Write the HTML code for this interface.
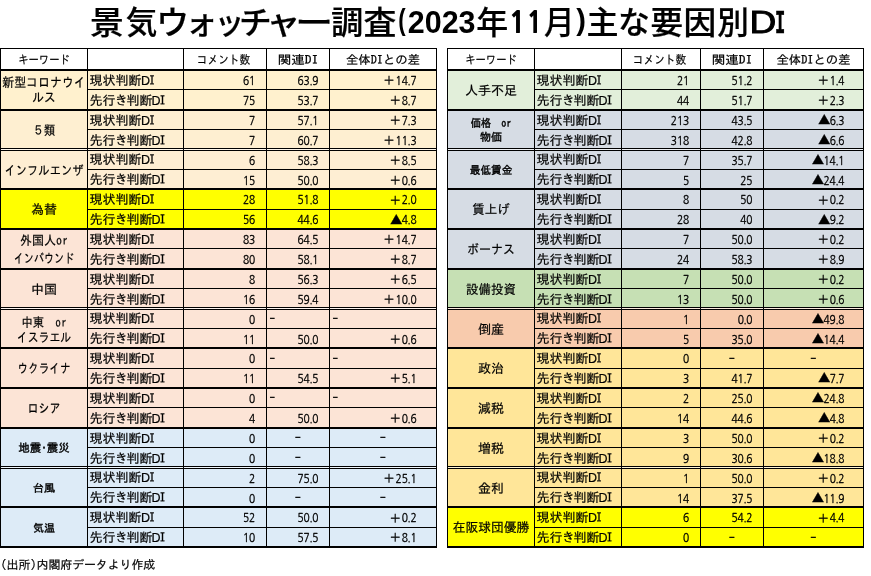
<!DOCTYPE html>
<html lang="ja"><head><meta charset="utf-8"><title>景気ウォッチャー調査(2023年11月)主な要因別DI</title>
<style>
html,body{margin:0;padding:0;background:#fff}
body{width:871px;height:576px;overflow:hidden}
svg{display:block;will-change:transform}
text{fill:#000}
.j,.k{font-family:"IPAGothic","Liberation Sans",sans-serif;stroke:#000;stroke-width:0.2px}
.la{font-family:"Liberation Sans",sans-serif;font-size:12.5px}
.kb{font-family:"IPAGothic","Liberation Sans",sans-serif;stroke:#000;stroke-width:0.4px}
.n{font-family:"NanumGothic","Liberation Sans",sans-serif;stroke:#000;stroke-width:0.35px}
.tri{font-family:"Noto Sans CJK JP",sans-serif}
.tc{font-family:"Liberation Sans","Noto Sans CJK JP",sans-serif;font-weight:500;stroke:#000;stroke-width:0.22px}
.tp{font-family:"Liberation Sans","Noto Sans CJK JP",sans-serif;font-weight:700}
.td{font-family:"Liberation Sans","Noto Sans CJK JP",sans-serif;font-weight:700}
.tn{font-family:"NanumGothic",sans-serif;font-weight:800}
.tl{font-family:"Liberation Sans","Noto Sans CJK JP",sans-serif;font-weight:400;stroke:#000;stroke-width:0.9px}
.tm{font-family:"Liberation Mono",monospace;font-weight:700;stroke:#000;stroke-width:0.5px}
</style></head><body>
<svg width="871" height="576" viewBox="0 0 871 576">
<rect x="0" y="0" width="871" height="576" fill="#fff"/>
<text><tspan class="tc" x="90.14" y="34" font-size="31.6" textLength="33.89" lengthAdjust="spacingAndGlyphs">景</tspan><tspan class="tc" x="125.80" y="34" font-size="31.6" textLength="31.56" lengthAdjust="spacingAndGlyphs">気</tspan><tspan class="tc" x="156.22" y="34" font-size="31.6" textLength="32.89" lengthAdjust="spacingAndGlyphs">ウ</tspan><tspan class="tc" x="185.58" y="34" font-size="31.6" textLength="31.88" lengthAdjust="spacingAndGlyphs">ォ</tspan><tspan class="tc" x="214.75" y="34" font-size="31.6" textLength="29.41" lengthAdjust="spacingAndGlyphs">ッ</tspan><tspan class="tc" x="238.98" y="34" font-size="31.6" textLength="32.74" lengthAdjust="spacingAndGlyphs">チ</tspan><tspan class="tc" x="266.31" y="34" font-size="31.6" textLength="34.25" lengthAdjust="spacingAndGlyphs">ャ</tspan><tspan class="tc" x="295.22" y="34" font-size="31.6" textLength="37.81" lengthAdjust="spacingAndGlyphs">ー</tspan><tspan class="tc" x="331.11" y="34" font-size="31.6" textLength="32.25" lengthAdjust="spacingAndGlyphs">調</tspan><tspan class="tc" x="363.41" y="34" font-size="31.6" textLength="32.90" lengthAdjust="spacingAndGlyphs">査</tspan><tspan class="tp" x="398.29" y="30.2" font-size="29.3" textLength="7.38" lengthAdjust="spacingAndGlyphs">(</tspan><tspan class="td" x="407.84" y="33.3" font-size="31.3" textLength="67.72" lengthAdjust="spacingAndGlyphs">2023</tspan><tspan class="tc" x="476.32" y="34" font-size="31.6" textLength="31.96" lengthAdjust="spacingAndGlyphs">年</tspan><tspan class="tn" x="508.86" y="33.3" font-size="29.6" textLength="17.32" lengthAdjust="spacingAndGlyphs">1</tspan><tspan class="tn" x="526.55" y="33.3" font-size="29.6" textLength="16.23" lengthAdjust="spacingAndGlyphs">1</tspan><tspan class="tc" x="544.09" y="34" font-size="31.6" textLength="30.50" lengthAdjust="spacingAndGlyphs">月</tspan><tspan class="tp" x="576.25" y="30.2" font-size="29.3" textLength="9.70" lengthAdjust="spacingAndGlyphs">)</tspan><tspan class="tc" x="586.50" y="34" font-size="31.6" textLength="32.00" lengthAdjust="spacingAndGlyphs">主</tspan><tspan class="tc" x="618.05" y="34" font-size="31.6" textLength="31.86" lengthAdjust="spacingAndGlyphs">な</tspan><tspan class="tc" x="650.60" y="34" font-size="31.6" textLength="32.61" lengthAdjust="spacingAndGlyphs">要</tspan><tspan class="tc" x="683.63" y="34" font-size="31.6" textLength="32.74" lengthAdjust="spacingAndGlyphs">因</tspan><tspan class="tc" x="717.15" y="34" font-size="31.6" textLength="31.63" lengthAdjust="spacingAndGlyphs">別</tspan><tspan class="tl" x="749.53" y="33.3" font-size="31.3" textLength="26.81" lengthAdjust="spacingAndGlyphs">D</tspan><tspan class="tm" x="774.89" y="33.3" font-size="33" textLength="10.23" lengthAdjust="spacingAndGlyphs">I</tspan></text>
<rect x="0" y="69" width="437" height="42" fill="#FFF1CE"/>
<rect x="0" y="109" width="437" height="42" fill="#FEEFD1"/>
<rect x="0" y="148" width="437" height="42" fill="#FEEED3"/>
<rect x="0" y="188" width="437" height="42" fill="#FFFF00"/>
<rect x="0" y="228" width="437" height="42" fill="#FCE4D6"/>
<rect x="0" y="268" width="437" height="42" fill="#FCE4D6"/>
<rect x="0" y="307" width="437" height="42" fill="#FCE4D6"/>
<rect x="0" y="347" width="437" height="42" fill="#FCE4D6"/>
<rect x="0" y="387" width="437" height="42" fill="#FCE4D6"/>
<rect x="0" y="427" width="437" height="42" fill="#DDEBF7"/>
<rect x="0" y="466" width="437" height="42" fill="#DDEBF7"/>
<rect x="0" y="506" width="437" height="42" fill="#DDEBF7"/>
<text class="j" x="44" y="64" font-size="12" text-anchor="middle" textLength="51.5" lengthAdjust="spacingAndGlyphs">キーワード</text>
<text class="j" x="223.5" y="64" font-size="12" text-anchor="middle" textLength="53.5" lengthAdjust="spacingAndGlyphs">コメント数</text>
<text class="j" x="298" y="64" font-size="12" text-anchor="middle" textLength="40.5" lengthAdjust="spacingAndGlyphs">関連DI</text>
<text class="j" x="383" y="64" font-size="12" text-anchor="middle" textLength="74" lengthAdjust="spacingAndGlyphs">全体DIとの差</text>
<text class="k" font-size="13" text-anchor="middle"><tspan x="44" y="87.48" textLength="83.5" lengthAdjust="spacingAndGlyphs">新型コロナウイ</tspan><tspan x="44" y="102.48" textLength="23.5" lengthAdjust="spacingAndGlyphs">ルス</tspan></text>
<text class="j" x="89.6" y="85" font-size="13">現状判断<tspan class="la" dx="-0.7">D</tspan><tspan dx="-1.2">I</tspan></text>
<text class="n" font-size="11.6"><tspan x="242.93" y="85.2" textLength="12.37" lengthAdjust="spacingAndGlyphs">61</tspan></text>
<text class="n" font-size="11.6"><tspan x="297.44" y="85.2" textLength="12.37" lengthAdjust="spacingAndGlyphs">63</tspan><tspan x="309.46" y="85.2" textLength="3.09" lengthAdjust="spacingAndGlyphs">.</tspan><tspan x="312.31" y="85.2" textLength="6.19" lengthAdjust="spacingAndGlyphs">9</tspan></text>
<text class="n" font-size="11.6"><tspan class="j" font-size="12.5" text-anchor="end" x="395.34" y="85.4">＋</tspan><tspan x="395.54" y="85.2" textLength="12.37" lengthAdjust="spacingAndGlyphs">14</tspan><tspan x="407.56" y="85.2" textLength="3.09" lengthAdjust="spacingAndGlyphs">.</tspan><tspan x="410.41" y="85.2" textLength="6.19" lengthAdjust="spacingAndGlyphs">7</tspan></text>
<text class="j" x="89.6" y="104.87" font-size="13">先行<tspan dx="-0.8">き</tspan><tspan dx="-1.3">判断</tspan><tspan class="la" dx="-1">D</tspan><tspan dx="-1.2">I</tspan></text>
<text class="n" font-size="11.6"><tspan x="242.93" y="105.07" textLength="12.37" lengthAdjust="spacingAndGlyphs">75</tspan></text>
<text class="n" font-size="11.6"><tspan x="297.44" y="105.07" textLength="12.37" lengthAdjust="spacingAndGlyphs">53</tspan><tspan x="309.46" y="105.07" textLength="3.09" lengthAdjust="spacingAndGlyphs">.</tspan><tspan x="312.31" y="105.07" textLength="6.19" lengthAdjust="spacingAndGlyphs">7</tspan></text>
<text class="n" font-size="11.6"><tspan class="j" font-size="12.5" text-anchor="end" x="401.53" y="105.27">＋</tspan><tspan x="401.73" y="105.07" textLength="6.19" lengthAdjust="spacingAndGlyphs">8</tspan><tspan x="407.56" y="105.07" textLength="3.09" lengthAdjust="spacingAndGlyphs">.</tspan><tspan x="410.41" y="105.07" textLength="6.19" lengthAdjust="spacingAndGlyphs">7</tspan></text>
<text class="k" x="44" y="134.98" font-size="13" text-anchor="middle" textLength="22.5" lengthAdjust="spacingAndGlyphs">５類</text>
<text class="j" x="89.6" y="124.74" font-size="13">現状判断<tspan class="la" dx="-0.7">D</tspan><tspan dx="-1.2">I</tspan></text>
<text class="n" font-size="11.6"><tspan x="249.11" y="124.94" textLength="6.19" lengthAdjust="spacingAndGlyphs">7</tspan></text>
<text class="n" font-size="11.6"><tspan x="297.44" y="124.94" textLength="12.37" lengthAdjust="spacingAndGlyphs">57</tspan><tspan x="309.46" y="124.94" textLength="3.09" lengthAdjust="spacingAndGlyphs">.</tspan><tspan x="312.31" y="124.94" textLength="6.19" lengthAdjust="spacingAndGlyphs">1</tspan></text>
<text class="n" font-size="11.6"><tspan class="j" font-size="12.5" text-anchor="end" x="401.53" y="125.14">＋</tspan><tspan x="401.73" y="124.94" textLength="6.19" lengthAdjust="spacingAndGlyphs">7</tspan><tspan x="407.56" y="124.94" textLength="3.09" lengthAdjust="spacingAndGlyphs">.</tspan><tspan x="410.41" y="124.94" textLength="6.19" lengthAdjust="spacingAndGlyphs">3</tspan></text>
<text class="j" x="89.6" y="144.62" font-size="13">先行<tspan dx="-0.8">き</tspan><tspan dx="-1.3">判断</tspan><tspan class="la" dx="-1">D</tspan><tspan dx="-1.2">I</tspan></text>
<text class="n" font-size="11.6"><tspan x="249.11" y="144.82" textLength="6.19" lengthAdjust="spacingAndGlyphs">7</tspan></text>
<text class="n" font-size="11.6"><tspan x="297.44" y="144.82" textLength="12.37" lengthAdjust="spacingAndGlyphs">60</tspan><tspan x="309.46" y="144.82" textLength="3.09" lengthAdjust="spacingAndGlyphs">.</tspan><tspan x="312.31" y="144.82" textLength="6.19" lengthAdjust="spacingAndGlyphs">7</tspan></text>
<text class="n" font-size="11.6"><tspan class="j" font-size="12.5" text-anchor="end" x="395.34" y="145.02">＋</tspan><tspan x="395.54" y="144.82" textLength="12.37" lengthAdjust="spacingAndGlyphs">11</tspan><tspan x="407.56" y="144.82" textLength="3.09" lengthAdjust="spacingAndGlyphs">.</tspan><tspan x="410.41" y="144.82" textLength="6.19" lengthAdjust="spacingAndGlyphs">3</tspan></text>
<text class="k" x="44" y="174.98" font-size="13" text-anchor="middle" textLength="79" lengthAdjust="spacingAndGlyphs">インフルエンザ</text>
<text class="j" x="89.6" y="164.49" font-size="13">現状判断<tspan class="la" dx="-0.7">D</tspan><tspan dx="-1.2">I</tspan></text>
<text class="n" font-size="11.6"><tspan x="249.11" y="164.69" textLength="6.19" lengthAdjust="spacingAndGlyphs">6</tspan></text>
<text class="n" font-size="11.6"><tspan x="297.44" y="164.69" textLength="12.37" lengthAdjust="spacingAndGlyphs">58</tspan><tspan x="309.46" y="164.69" textLength="3.09" lengthAdjust="spacingAndGlyphs">.</tspan><tspan x="312.31" y="164.69" textLength="6.19" lengthAdjust="spacingAndGlyphs">3</tspan></text>
<text class="n" font-size="11.6"><tspan class="j" font-size="12.5" text-anchor="end" x="401.53" y="164.89">＋</tspan><tspan x="401.73" y="164.69" textLength="6.19" lengthAdjust="spacingAndGlyphs">8</tspan><tspan x="407.56" y="164.69" textLength="3.09" lengthAdjust="spacingAndGlyphs">.</tspan><tspan x="410.41" y="164.69" textLength="6.19" lengthAdjust="spacingAndGlyphs">5</tspan></text>
<text class="j" x="89.6" y="184.36" font-size="13">先行<tspan dx="-0.8">き</tspan><tspan dx="-1.3">判断</tspan><tspan class="la" dx="-1">D</tspan><tspan dx="-1.2">I</tspan></text>
<text class="n" font-size="11.6"><tspan x="242.93" y="184.56" textLength="12.37" lengthAdjust="spacingAndGlyphs">15</tspan></text>
<text class="n" font-size="11.6"><tspan x="297.44" y="184.56" textLength="12.37" lengthAdjust="spacingAndGlyphs">50</tspan><tspan x="309.46" y="184.56" textLength="3.09" lengthAdjust="spacingAndGlyphs">.</tspan><tspan x="312.31" y="184.56" textLength="6.19" lengthAdjust="spacingAndGlyphs">0</tspan></text>
<text class="n" font-size="11.6"><tspan class="j" font-size="12.5" text-anchor="end" x="401.53" y="184.76">＋</tspan><tspan x="401.73" y="184.56" textLength="6.19" lengthAdjust="spacingAndGlyphs">0</tspan><tspan x="407.56" y="184.56" textLength="3.09" lengthAdjust="spacingAndGlyphs">.</tspan><tspan x="410.41" y="184.56" textLength="6.19" lengthAdjust="spacingAndGlyphs">6</tspan></text>
<text class="k" x="44" y="214.48" font-size="13" text-anchor="middle">為替</text>
<text class="j" x="89.6" y="204.23" font-size="13">現状判断<tspan class="la" dx="-0.7">D</tspan><tspan dx="-1.2">I</tspan></text>
<text class="n" font-size="11.6"><tspan x="242.93" y="204.43" textLength="12.37" lengthAdjust="spacingAndGlyphs">28</tspan></text>
<text class="n" font-size="11.6"><tspan x="297.44" y="204.43" textLength="12.37" lengthAdjust="spacingAndGlyphs">51</tspan><tspan x="309.46" y="204.43" textLength="3.09" lengthAdjust="spacingAndGlyphs">.</tspan><tspan x="312.31" y="204.43" textLength="6.19" lengthAdjust="spacingAndGlyphs">8</tspan></text>
<text class="n" font-size="11.6"><tspan class="j" font-size="12.5" text-anchor="end" x="401.53" y="204.63">＋</tspan><tspan x="401.73" y="204.43" textLength="6.19" lengthAdjust="spacingAndGlyphs">2</tspan><tspan x="407.56" y="204.43" textLength="3.09" lengthAdjust="spacingAndGlyphs">.</tspan><tspan x="410.41" y="204.43" textLength="6.19" lengthAdjust="spacingAndGlyphs">0</tspan></text>
<text class="j" x="89.6" y="224.1" font-size="13">先行<tspan dx="-0.8">き</tspan><tspan dx="-1.3">判断</tspan><tspan class="la" dx="-1">D</tspan><tspan dx="-1.2">I</tspan></text>
<text class="n" font-size="11.6"><tspan x="242.93" y="224.3" textLength="12.37" lengthAdjust="spacingAndGlyphs">56</tspan></text>
<text class="n" font-size="11.6"><tspan x="297.44" y="224.3" textLength="12.37" lengthAdjust="spacingAndGlyphs">44</tspan><tspan x="309.46" y="224.3" textLength="3.09" lengthAdjust="spacingAndGlyphs">.</tspan><tspan x="312.31" y="224.3" textLength="6.19" lengthAdjust="spacingAndGlyphs">6</tspan></text>
<text class="n" font-size="11.6"><tspan class="tri" font-size="12" text-anchor="end" x="402.33" y="224.5">▲</tspan><tspan x="401.73" y="224.3" textLength="6.19" lengthAdjust="spacingAndGlyphs">4</tspan><tspan x="407.56" y="224.3" textLength="3.09" lengthAdjust="spacingAndGlyphs">.</tspan><tspan x="410.41" y="224.3" textLength="6.19" lengthAdjust="spacingAndGlyphs">8</tspan></text>
<text class="k" font-size="13" text-anchor="middle"><tspan x="44" y="244.98" textLength="48" lengthAdjust="spacingAndGlyphs">外国人or</tspan><tspan x="44" y="263.28" textLength="60.5" lengthAdjust="spacingAndGlyphs">インバウンド</tspan></text>
<text class="j" x="89.6" y="243.98" font-size="13">現状判断<tspan class="la" dx="-0.7">D</tspan><tspan dx="-1.2">I</tspan></text>
<text class="n" font-size="11.6"><tspan x="242.93" y="244.18" textLength="12.37" lengthAdjust="spacingAndGlyphs">83</tspan></text>
<text class="n" font-size="11.6"><tspan x="297.44" y="244.18" textLength="12.37" lengthAdjust="spacingAndGlyphs">64</tspan><tspan x="309.46" y="244.18" textLength="3.09" lengthAdjust="spacingAndGlyphs">.</tspan><tspan x="312.31" y="244.18" textLength="6.19" lengthAdjust="spacingAndGlyphs">5</tspan></text>
<text class="n" font-size="11.6"><tspan class="j" font-size="12.5" text-anchor="end" x="395.34" y="244.38">＋</tspan><tspan x="395.54" y="244.18" textLength="12.37" lengthAdjust="spacingAndGlyphs">14</tspan><tspan x="407.56" y="244.18" textLength="3.09" lengthAdjust="spacingAndGlyphs">.</tspan><tspan x="410.41" y="244.18" textLength="6.19" lengthAdjust="spacingAndGlyphs">7</tspan></text>
<text class="j" x="89.6" y="263.85" font-size="13">先行<tspan dx="-0.8">き</tspan><tspan dx="-1.3">判断</tspan><tspan class="la" dx="-1">D</tspan><tspan dx="-1.2">I</tspan></text>
<text class="n" font-size="11.6"><tspan x="242.93" y="264.05" textLength="12.37" lengthAdjust="spacingAndGlyphs">80</tspan></text>
<text class="n" font-size="11.6"><tspan x="297.44" y="264.05" textLength="12.37" lengthAdjust="spacingAndGlyphs">58</tspan><tspan x="309.46" y="264.05" textLength="3.09" lengthAdjust="spacingAndGlyphs">.</tspan><tspan x="312.31" y="264.05" textLength="6.19" lengthAdjust="spacingAndGlyphs">1</tspan></text>
<text class="n" font-size="11.6"><tspan class="j" font-size="12.5" text-anchor="end" x="401.53" y="264.25">＋</tspan><tspan x="401.73" y="264.05" textLength="6.19" lengthAdjust="spacingAndGlyphs">8</tspan><tspan x="407.56" y="264.05" textLength="3.09" lengthAdjust="spacingAndGlyphs">.</tspan><tspan x="410.41" y="264.05" textLength="6.19" lengthAdjust="spacingAndGlyphs">7</tspan></text>
<text class="k" x="44" y="293.98" font-size="13" text-anchor="middle">中国</text>
<text class="j" x="89.6" y="283.72" font-size="13">現状判断<tspan class="la" dx="-0.7">D</tspan><tspan dx="-1.2">I</tspan></text>
<text class="n" font-size="11.6"><tspan x="249.11" y="283.92" textLength="6.19" lengthAdjust="spacingAndGlyphs">8</tspan></text>
<text class="n" font-size="11.6"><tspan x="297.44" y="283.92" textLength="12.37" lengthAdjust="spacingAndGlyphs">56</tspan><tspan x="309.46" y="283.92" textLength="3.09" lengthAdjust="spacingAndGlyphs">.</tspan><tspan x="312.31" y="283.92" textLength="6.19" lengthAdjust="spacingAndGlyphs">3</tspan></text>
<text class="n" font-size="11.6"><tspan class="j" font-size="12.5" text-anchor="end" x="401.53" y="284.12">＋</tspan><tspan x="401.73" y="283.92" textLength="6.19" lengthAdjust="spacingAndGlyphs">6</tspan><tspan x="407.56" y="283.92" textLength="3.09" lengthAdjust="spacingAndGlyphs">.</tspan><tspan x="410.41" y="283.92" textLength="6.19" lengthAdjust="spacingAndGlyphs">5</tspan></text>
<text class="j" x="89.6" y="303.59" font-size="13">先行<tspan dx="-0.8">き</tspan><tspan dx="-1.3">判断</tspan><tspan class="la" dx="-1">D</tspan><tspan dx="-1.2">I</tspan></text>
<text class="n" font-size="11.6"><tspan x="242.93" y="303.79" textLength="12.37" lengthAdjust="spacingAndGlyphs">16</tspan></text>
<text class="n" font-size="11.6"><tspan x="297.44" y="303.79" textLength="12.37" lengthAdjust="spacingAndGlyphs">59</tspan><tspan x="309.46" y="303.79" textLength="3.09" lengthAdjust="spacingAndGlyphs">.</tspan><tspan x="312.31" y="303.79" textLength="6.19" lengthAdjust="spacingAndGlyphs">4</tspan></text>
<text class="n" font-size="11.6"><tspan class="j" font-size="12.5" text-anchor="end" x="395.34" y="303.99">＋</tspan><tspan x="395.54" y="303.79" textLength="12.37" lengthAdjust="spacingAndGlyphs">10</tspan><tspan x="407.56" y="303.79" textLength="3.09" lengthAdjust="spacingAndGlyphs">.</tspan><tspan x="410.41" y="303.79" textLength="6.19" lengthAdjust="spacingAndGlyphs">0</tspan></text>
<text class="k" font-size="13" text-anchor="middle"><tspan x="44" y="326.68" textLength="45" lengthAdjust="spacingAndGlyphs">中東　or</tspan><tspan x="44" y="341.98" textLength="54.5" lengthAdjust="spacingAndGlyphs">イスラエル</tspan></text>
<text class="j" x="89.6" y="323.46" font-size="13">現状判断<tspan class="la" dx="-0.7">D</tspan><tspan dx="-1.2">I</tspan></text>
<text class="n" font-size="11.6"><tspan x="249.11" y="323.66" textLength="6.19" lengthAdjust="spacingAndGlyphs">0</tspan></text>
<text class="j" font-size="12" transform="translate(269 322.96) scale(0.55 1)">－</text>
<text class="j" font-size="12" transform="translate(332 322.96) scale(0.55 1)">－</text>
<text class="j" x="89.6" y="343.34" font-size="13">先行<tspan dx="-0.8">き</tspan><tspan dx="-1.3">判断</tspan><tspan class="la" dx="-1">D</tspan><tspan dx="-1.2">I</tspan></text>
<text class="n" font-size="11.6"><tspan x="242.93" y="343.54" textLength="12.37" lengthAdjust="spacingAndGlyphs">11</tspan></text>
<text class="n" font-size="11.6"><tspan x="297.44" y="343.54" textLength="12.37" lengthAdjust="spacingAndGlyphs">50</tspan><tspan x="309.46" y="343.54" textLength="3.09" lengthAdjust="spacingAndGlyphs">.</tspan><tspan x="312.31" y="343.54" textLength="6.19" lengthAdjust="spacingAndGlyphs">0</tspan></text>
<text class="n" font-size="11.6"><tspan class="j" font-size="12.5" text-anchor="end" x="401.53" y="343.74">＋</tspan><tspan x="401.73" y="343.54" textLength="6.19" lengthAdjust="spacingAndGlyphs">0</tspan><tspan x="407.56" y="343.54" textLength="3.09" lengthAdjust="spacingAndGlyphs">.</tspan><tspan x="410.41" y="343.54" textLength="6.19" lengthAdjust="spacingAndGlyphs">6</tspan></text>
<text class="k" x="44" y="373.48" font-size="13" text-anchor="middle" textLength="53" lengthAdjust="spacingAndGlyphs">ウクライナ</text>
<text class="j" x="89.6" y="363.21" font-size="13">現状判断<tspan class="la" dx="-0.7">D</tspan><tspan dx="-1.2">I</tspan></text>
<text class="n" font-size="11.6"><tspan x="249.11" y="363.41" textLength="6.19" lengthAdjust="spacingAndGlyphs">0</tspan></text>
<text class="j" font-size="12" transform="translate(269 362.71) scale(0.55 1)">－</text>
<text class="j" font-size="12" transform="translate(332 362.71) scale(0.55 1)">－</text>
<text class="j" x="89.6" y="383.08" font-size="13">先行<tspan dx="-0.8">き</tspan><tspan dx="-1.3">判断</tspan><tspan class="la" dx="-1">D</tspan><tspan dx="-1.2">I</tspan></text>
<text class="n" font-size="11.6"><tspan x="242.93" y="383.28" textLength="12.37" lengthAdjust="spacingAndGlyphs">11</tspan></text>
<text class="n" font-size="11.6"><tspan x="297.44" y="383.28" textLength="12.37" lengthAdjust="spacingAndGlyphs">54</tspan><tspan x="309.46" y="383.28" textLength="3.09" lengthAdjust="spacingAndGlyphs">.</tspan><tspan x="312.31" y="383.28" textLength="6.19" lengthAdjust="spacingAndGlyphs">5</tspan></text>
<text class="n" font-size="11.6"><tspan class="j" font-size="12.5" text-anchor="end" x="401.53" y="383.48">＋</tspan><tspan x="401.73" y="383.28" textLength="6.19" lengthAdjust="spacingAndGlyphs">5</tspan><tspan x="407.56" y="383.28" textLength="3.09" lengthAdjust="spacingAndGlyphs">.</tspan><tspan x="410.41" y="383.28" textLength="6.19" lengthAdjust="spacingAndGlyphs">1</tspan></text>
<text class="k" x="44" y="413.48" font-size="13" text-anchor="middle" textLength="33" lengthAdjust="spacingAndGlyphs">ロシア</text>
<text class="j" x="89.6" y="402.95" font-size="13">現状判断<tspan class="la" dx="-0.7">D</tspan><tspan dx="-1.2">I</tspan></text>
<text class="n" font-size="11.6"><tspan x="249.11" y="403.15" textLength="6.19" lengthAdjust="spacingAndGlyphs">0</tspan></text>
<text class="j" font-size="12" transform="translate(269 402.45) scale(0.55 1)">－</text>
<text class="j" font-size="12" transform="translate(332 402.45) scale(0.55 1)">－</text>
<text class="j" x="89.6" y="422.82" font-size="13">先行<tspan dx="-0.8">き</tspan><tspan dx="-1.3">判断</tspan><tspan class="la" dx="-1">D</tspan><tspan dx="-1.2">I</tspan></text>
<text class="n" font-size="11.6"><tspan x="249.11" y="423.02" textLength="6.19" lengthAdjust="spacingAndGlyphs">4</tspan></text>
<text class="n" font-size="11.6"><tspan x="297.44" y="423.02" textLength="12.37" lengthAdjust="spacingAndGlyphs">50</tspan><tspan x="309.46" y="423.02" textLength="3.09" lengthAdjust="spacingAndGlyphs">.</tspan><tspan x="312.31" y="423.02" textLength="6.19" lengthAdjust="spacingAndGlyphs">0</tspan></text>
<text class="n" font-size="11.6"><tspan class="j" font-size="12.5" text-anchor="end" x="401.53" y="423.22">＋</tspan><tspan x="401.73" y="423.02" textLength="6.19" lengthAdjust="spacingAndGlyphs">0</tspan><tspan x="407.56" y="423.02" textLength="3.09" lengthAdjust="spacingAndGlyphs">.</tspan><tspan x="410.41" y="423.02" textLength="6.19" lengthAdjust="spacingAndGlyphs">6</tspan></text>
<text class="kb" x="44" y="452.44" font-size="11.5" text-anchor="middle">地震<tspan dx="-2.9">・</tspan><tspan dx="-2.9">震災</tspan></text>
<text class="j" x="89.6" y="442.7" font-size="13">現状判断<tspan class="la" dx="-0.7">D</tspan><tspan dx="-1.2">I</tspan></text>
<text class="n" font-size="11.6"><tspan x="249.11" y="442.9" textLength="6.19" lengthAdjust="spacingAndGlyphs">0</tspan></text>
<text class="j" font-size="12" text-anchor="middle" transform="translate(297.8 442.2) scale(0.6 1)">－</text>
<text class="j" font-size="12" text-anchor="middle" transform="translate(382.8 442.2) scale(0.6 1)">－</text>
<text class="j" x="89.6" y="462.57" font-size="13">先行<tspan dx="-0.8">き</tspan><tspan dx="-1.3">判断</tspan><tspan class="la" dx="-1">D</tspan><tspan dx="-1.2">I</tspan></text>
<text class="n" font-size="11.6"><tspan x="249.11" y="462.77" textLength="6.19" lengthAdjust="spacingAndGlyphs">0</tspan></text>
<text class="j" font-size="12" text-anchor="middle" transform="translate(297.8 462.07) scale(0.6 1)">－</text>
<text class="j" font-size="12" text-anchor="middle" transform="translate(382.8 462.07) scale(0.6 1)">－</text>
<text class="kb" x="44" y="492.26" font-size="11" text-anchor="middle">台風</text>
<text class="j" x="89.6" y="482.44" font-size="13">現状判断<tspan class="la" dx="-0.7">D</tspan><tspan dx="-1.2">I</tspan></text>
<text class="n" font-size="11.6"><tspan x="249.11" y="482.64" textLength="6.19" lengthAdjust="spacingAndGlyphs">2</tspan></text>
<text class="n" font-size="11.6"><tspan x="297.44" y="482.64" textLength="12.37" lengthAdjust="spacingAndGlyphs">75</tspan><tspan x="309.46" y="482.64" textLength="3.09" lengthAdjust="spacingAndGlyphs">.</tspan><tspan x="312.31" y="482.64" textLength="6.19" lengthAdjust="spacingAndGlyphs">0</tspan></text>
<text class="n" font-size="11.6"><tspan class="j" font-size="12.5" text-anchor="end" x="395.34" y="482.84">＋</tspan><tspan x="395.54" y="482.64" textLength="12.37" lengthAdjust="spacingAndGlyphs">25</tspan><tspan x="407.56" y="482.64" textLength="3.09" lengthAdjust="spacingAndGlyphs">.</tspan><tspan x="410.41" y="482.64" textLength="6.19" lengthAdjust="spacingAndGlyphs">1</tspan></text>
<text class="j" x="89.6" y="502.31" font-size="13">先行<tspan dx="-0.8">き</tspan><tspan dx="-1.3">判断</tspan><tspan class="la" dx="-1">D</tspan><tspan dx="-1.2">I</tspan></text>
<text class="n" font-size="11.6"><tspan x="249.11" y="502.51" textLength="6.19" lengthAdjust="spacingAndGlyphs">0</tspan></text>
<text class="j" font-size="12" text-anchor="middle" transform="translate(297.8 501.81) scale(0.6 1)">－</text>
<text class="j" font-size="12" text-anchor="middle" transform="translate(382.8 501.81) scale(0.6 1)">－</text>
<text class="kb" x="44" y="531.76" font-size="11" text-anchor="middle">気温</text>
<text class="j" x="89.6" y="522.18" font-size="13">現状判断<tspan class="la" dx="-0.7">D</tspan><tspan dx="-1.2">I</tspan></text>
<text class="n" font-size="11.6"><tspan x="242.93" y="522.38" textLength="12.37" lengthAdjust="spacingAndGlyphs">52</tspan></text>
<text class="n" font-size="11.6"><tspan x="297.44" y="522.38" textLength="12.37" lengthAdjust="spacingAndGlyphs">50</tspan><tspan x="309.46" y="522.38" textLength="3.09" lengthAdjust="spacingAndGlyphs">.</tspan><tspan x="312.31" y="522.38" textLength="6.19" lengthAdjust="spacingAndGlyphs">0</tspan></text>
<text class="n" font-size="11.6"><tspan class="j" font-size="12.5" text-anchor="end" x="401.53" y="522.58">＋</tspan><tspan x="401.73" y="522.38" textLength="6.19" lengthAdjust="spacingAndGlyphs">0</tspan><tspan x="407.56" y="522.38" textLength="3.09" lengthAdjust="spacingAndGlyphs">.</tspan><tspan x="410.41" y="522.38" textLength="6.19" lengthAdjust="spacingAndGlyphs">2</tspan></text>
<text class="j" x="89.6" y="542.06" font-size="13">先行<tspan dx="-0.8">き</tspan><tspan dx="-1.3">判断</tspan><tspan class="la" dx="-1">D</tspan><tspan dx="-1.2">I</tspan></text>
<text class="n" font-size="11.6"><tspan x="242.93" y="542.26" textLength="12.37" lengthAdjust="spacingAndGlyphs">10</tspan></text>
<text class="n" font-size="11.6"><tspan x="297.44" y="542.26" textLength="12.37" lengthAdjust="spacingAndGlyphs">57</tspan><tspan x="309.46" y="542.26" textLength="3.09" lengthAdjust="spacingAndGlyphs">.</tspan><tspan x="312.31" y="542.26" textLength="6.19" lengthAdjust="spacingAndGlyphs">5</tspan></text>
<text class="n" font-size="11.6"><tspan class="j" font-size="12.5" text-anchor="end" x="401.53" y="542.46">＋</tspan><tspan x="401.73" y="542.26" textLength="6.19" lengthAdjust="spacingAndGlyphs">8</tspan><tspan x="407.56" y="542.26" textLength="3.09" lengthAdjust="spacingAndGlyphs">.</tspan><tspan x="410.41" y="542.26" textLength="6.19" lengthAdjust="spacingAndGlyphs">1</tspan></text>
<rect x="0" y="48" width="437" height="1" fill="#000"/>
<rect x="0" y="69" width="437" height="2" fill="#000"/>
<rect x="87" y="89" width="350" height="1" fill="#000"/>
<rect x="0" y="109" width="437" height="2" fill="#000"/>
<rect x="87" y="129" width="350" height="1" fill="#000"/>
<rect x="0" y="148" width="437" height="1" fill="#000"/>
<rect x="0" y="149" width="437" height="1" fill="#fff" fill-opacity="0.6"/>
<rect x="0" y="150" width="437" height="1" fill="#000"/>
<rect x="87" y="169" width="350" height="1" fill="#000"/>
<rect x="0" y="188" width="437" height="2" fill="#000"/>
<rect x="87" y="209" width="350" height="1" fill="#000"/>
<rect x="0" y="228" width="437" height="2" fill="#000"/>
<rect x="87" y="248" width="350" height="1" fill="#000"/>
<rect x="0" y="268" width="437" height="2" fill="#000"/>
<rect x="87" y="288" width="350" height="1" fill="#000"/>
<rect x="0" y="307" width="437" height="1" fill="#000"/>
<rect x="0" y="308" width="437" height="1" fill="#fff" fill-opacity="0.6"/>
<rect x="0" y="309" width="437" height="1" fill="#000"/>
<rect x="87" y="328" width="350" height="1" fill="#000"/>
<rect x="0" y="347" width="437" height="2" fill="#000"/>
<rect x="87" y="368" width="350" height="1" fill="#000"/>
<rect x="0" y="387" width="437" height="2" fill="#000"/>
<rect x="87" y="407" width="350" height="1" fill="#000"/>
<rect x="0" y="427" width="437" height="2" fill="#000"/>
<rect x="87" y="447" width="350" height="1" fill="#000"/>
<rect x="0" y="466" width="437" height="1" fill="#000"/>
<rect x="0" y="467" width="437" height="1" fill="#fff" fill-opacity="0.6"/>
<rect x="0" y="468" width="437" height="1" fill="#000"/>
<rect x="87" y="487" width="350" height="1" fill="#000"/>
<rect x="0" y="506" width="437" height="2" fill="#000"/>
<rect x="87" y="527" width="350" height="1" fill="#000"/>
<rect x="0" y="546" width="437" height="2" fill="#000"/>
<rect x="0" y="48" width="1" height="500" fill="#000"/>
<rect x="87" y="48" width="1" height="500" fill="#000"/>
<rect x="183" y="48" width="1" height="500" fill="#000"/>
<rect x="266" y="48" width="1" height="500" fill="#000"/>
<rect x="329" y="48" width="1" height="500" fill="#000"/>
<rect x="436" y="48" width="1" height="500" fill="#000"/>
<rect x="447" y="69" width="417" height="42" fill="#E2EFDA"/>
<rect x="447" y="109" width="417" height="42" fill="#D6DCE4"/>
<rect x="447" y="148" width="417" height="42" fill="#D6DCE4"/>
<rect x="447" y="188" width="417" height="42" fill="#D6DCE4"/>
<rect x="447" y="228" width="417" height="42" fill="#D6DCE4"/>
<rect x="447" y="268" width="417" height="42" fill="#C6E0B4"/>
<rect x="447" y="307" width="417" height="42" fill="#F8CBAD"/>
<rect x="447" y="347" width="417" height="42" fill="#FFE699"/>
<rect x="447" y="387" width="417" height="42" fill="#FFE699"/>
<rect x="447" y="427" width="417" height="42" fill="#FFE699"/>
<rect x="447" y="466" width="417" height="42" fill="#FFE699"/>
<rect x="447" y="506" width="417" height="42" fill="#FFFF00"/>
<text class="j" x="491" y="64" font-size="12" text-anchor="middle" textLength="51.5" lengthAdjust="spacingAndGlyphs">キーワード</text>
<text class="j" x="659.5" y="64" font-size="12" text-anchor="middle" textLength="53.5" lengthAdjust="spacingAndGlyphs">コメント数</text>
<text class="j" x="732" y="64" font-size="12" text-anchor="middle" textLength="40.5" lengthAdjust="spacingAndGlyphs">関連DI</text>
<text class="j" x="813.5" y="64" font-size="12" text-anchor="middle" textLength="74" lengthAdjust="spacingAndGlyphs">全体DIとの差</text>
<text class="k" x="491" y="95.48" font-size="13" text-anchor="middle">人手不足</text>
<text class="j" x="536.6" y="85" font-size="13">現状判断<tspan class="la" dx="-0.7">D</tspan><tspan dx="-1.2">I</tspan></text>
<text class="n" font-size="11.6"><tspan x="676.93" y="85.2" textLength="12.37" lengthAdjust="spacingAndGlyphs">21</tspan></text>
<text class="n" font-size="11.6"><tspan x="731.44" y="85.2" textLength="12.37" lengthAdjust="spacingAndGlyphs">51</tspan><tspan x="743.46" y="85.2" textLength="3.09" lengthAdjust="spacingAndGlyphs">.</tspan><tspan x="746.31" y="85.2" textLength="6.19" lengthAdjust="spacingAndGlyphs">2</tspan></text>
<text class="n" font-size="11.6"><tspan class="j" font-size="12.5" text-anchor="end" x="829.43" y="85.4">＋</tspan><tspan x="829.63" y="85.2" textLength="6.19" lengthAdjust="spacingAndGlyphs">1</tspan><tspan x="835.46" y="85.2" textLength="3.09" lengthAdjust="spacingAndGlyphs">.</tspan><tspan x="838.31" y="85.2" textLength="6.19" lengthAdjust="spacingAndGlyphs">4</tspan></text>
<text class="j" x="536.6" y="104.87" font-size="13">先行<tspan dx="-0.8">き</tspan><tspan dx="-1.3">判断</tspan><tspan class="la" dx="-1">D</tspan><tspan dx="-1.2">I</tspan></text>
<text class="n" font-size="11.6"><tspan x="676.93" y="105.07" textLength="12.37" lengthAdjust="spacingAndGlyphs">44</tspan></text>
<text class="n" font-size="11.6"><tspan x="731.44" y="105.07" textLength="12.37" lengthAdjust="spacingAndGlyphs">51</tspan><tspan x="743.46" y="105.07" textLength="3.09" lengthAdjust="spacingAndGlyphs">.</tspan><tspan x="746.31" y="105.07" textLength="6.19" lengthAdjust="spacingAndGlyphs">7</tspan></text>
<text class="n" font-size="11.6"><tspan class="j" font-size="12.5" text-anchor="end" x="829.43" y="105.27">＋</tspan><tspan x="829.63" y="105.07" textLength="6.19" lengthAdjust="spacingAndGlyphs">2</tspan><tspan x="835.46" y="105.07" textLength="3.09" lengthAdjust="spacingAndGlyphs">.</tspan><tspan x="838.31" y="105.07" textLength="6.19" lengthAdjust="spacingAndGlyphs">3</tspan></text>
<text class="kb" font-size="11" text-anchor="middle"><tspan x="491" y="127.16" textLength="40.5" lengthAdjust="spacingAndGlyphs">価格　or</tspan><tspan x="491" y="140.76">物価</tspan></text>
<text class="j" x="536.6" y="124.74" font-size="13">現状判断<tspan class="la" dx="-0.7">D</tspan><tspan dx="-1.2">I</tspan></text>
<text class="n" font-size="11.6"><tspan x="670.74" y="124.94" textLength="18.56" lengthAdjust="spacingAndGlyphs">213</tspan></text>
<text class="n" font-size="11.6"><tspan x="731.44" y="124.94" textLength="12.37" lengthAdjust="spacingAndGlyphs">43</tspan><tspan x="743.46" y="124.94" textLength="3.09" lengthAdjust="spacingAndGlyphs">.</tspan><tspan x="746.31" y="124.94" textLength="6.19" lengthAdjust="spacingAndGlyphs">5</tspan></text>
<text class="n" font-size="11.6"><tspan class="tri" font-size="12" text-anchor="end" x="830.23" y="125.14">▲</tspan><tspan x="829.63" y="124.94" textLength="6.19" lengthAdjust="spacingAndGlyphs">6</tspan><tspan x="835.46" y="124.94" textLength="3.09" lengthAdjust="spacingAndGlyphs">.</tspan><tspan x="838.31" y="124.94" textLength="6.19" lengthAdjust="spacingAndGlyphs">3</tspan></text>
<text class="j" x="536.6" y="144.62" font-size="13">先行<tspan dx="-0.8">き</tspan><tspan dx="-1.3">判断</tspan><tspan class="la" dx="-1">D</tspan><tspan dx="-1.2">I</tspan></text>
<text class="n" font-size="11.6"><tspan x="670.74" y="144.82" textLength="18.56" lengthAdjust="spacingAndGlyphs">318</tspan></text>
<text class="n" font-size="11.6"><tspan x="731.44" y="144.82" textLength="12.37" lengthAdjust="spacingAndGlyphs">42</tspan><tspan x="743.46" y="144.82" textLength="3.09" lengthAdjust="spacingAndGlyphs">.</tspan><tspan x="746.31" y="144.82" textLength="6.19" lengthAdjust="spacingAndGlyphs">8</tspan></text>
<text class="n" font-size="11.6"><tspan class="tri" font-size="12" text-anchor="end" x="830.23" y="145.02">▲</tspan><tspan x="829.63" y="144.82" textLength="6.19" lengthAdjust="spacingAndGlyphs">6</tspan><tspan x="835.46" y="144.82" textLength="3.09" lengthAdjust="spacingAndGlyphs">.</tspan><tspan x="838.31" y="144.82" textLength="6.19" lengthAdjust="spacingAndGlyphs">6</tspan></text>
<text class="kb" x="491" y="174.26" font-size="11" text-anchor="middle" textLength="42.5" lengthAdjust="spacingAndGlyphs">最低賃金</text>
<text class="j" x="536.6" y="164.49" font-size="13">現状判断<tspan class="la" dx="-0.7">D</tspan><tspan dx="-1.2">I</tspan></text>
<text class="n" font-size="11.6"><tspan x="683.11" y="164.69" textLength="6.19" lengthAdjust="spacingAndGlyphs">7</tspan></text>
<text class="n" font-size="11.6"><tspan x="731.44" y="164.69" textLength="12.37" lengthAdjust="spacingAndGlyphs">35</tspan><tspan x="743.46" y="164.69" textLength="3.09" lengthAdjust="spacingAndGlyphs">.</tspan><tspan x="746.31" y="164.69" textLength="6.19" lengthAdjust="spacingAndGlyphs">7</tspan></text>
<text class="n" font-size="11.6"><tspan class="tri" font-size="12" text-anchor="end" x="824.04" y="164.89">▲</tspan><tspan x="823.44" y="164.69" textLength="12.37" lengthAdjust="spacingAndGlyphs">14</tspan><tspan x="835.46" y="164.69" textLength="3.09" lengthAdjust="spacingAndGlyphs">.</tspan><tspan x="838.31" y="164.69" textLength="6.19" lengthAdjust="spacingAndGlyphs">1</tspan></text>
<text class="j" x="536.6" y="184.36" font-size="13">先行<tspan dx="-0.8">き</tspan><tspan dx="-1.3">判断</tspan><tspan class="la" dx="-1">D</tspan><tspan dx="-1.2">I</tspan></text>
<text class="n" font-size="11.6"><tspan x="683.11" y="184.56" textLength="6.19" lengthAdjust="spacingAndGlyphs">5</tspan></text>
<text class="n" font-size="11.6"><tspan x="740.13" y="184.56" textLength="12.37" lengthAdjust="spacingAndGlyphs">25</tspan></text>
<text class="n" font-size="11.6"><tspan class="tri" font-size="12" text-anchor="end" x="824.04" y="184.76">▲</tspan><tspan x="823.44" y="184.56" textLength="12.37" lengthAdjust="spacingAndGlyphs">24</tspan><tspan x="835.46" y="184.56" textLength="3.09" lengthAdjust="spacingAndGlyphs">.</tspan><tspan x="838.31" y="184.56" textLength="6.19" lengthAdjust="spacingAndGlyphs">4</tspan></text>
<text class="k" x="491" y="214.48" font-size="13" text-anchor="middle" textLength="37.5" lengthAdjust="spacingAndGlyphs">賃上げ</text>
<text class="j" x="536.6" y="204.23" font-size="13">現状判断<tspan class="la" dx="-0.7">D</tspan><tspan dx="-1.2">I</tspan></text>
<text class="n" font-size="11.6"><tspan x="683.11" y="204.43" textLength="6.19" lengthAdjust="spacingAndGlyphs">8</tspan></text>
<text class="n" font-size="11.6"><tspan x="740.13" y="204.43" textLength="12.37" lengthAdjust="spacingAndGlyphs">50</tspan></text>
<text class="n" font-size="11.6"><tspan class="j" font-size="12.5" text-anchor="end" x="829.43" y="204.63">＋</tspan><tspan x="829.63" y="204.43" textLength="6.19" lengthAdjust="spacingAndGlyphs">0</tspan><tspan x="835.46" y="204.43" textLength="3.09" lengthAdjust="spacingAndGlyphs">.</tspan><tspan x="838.31" y="204.43" textLength="6.19" lengthAdjust="spacingAndGlyphs">2</tspan></text>
<text class="j" x="536.6" y="224.1" font-size="13">先行<tspan dx="-0.8">き</tspan><tspan dx="-1.3">判断</tspan><tspan class="la" dx="-1">D</tspan><tspan dx="-1.2">I</tspan></text>
<text class="n" font-size="11.6"><tspan x="676.93" y="224.3" textLength="12.37" lengthAdjust="spacingAndGlyphs">28</tspan></text>
<text class="n" font-size="11.6"><tspan x="740.13" y="224.3" textLength="12.37" lengthAdjust="spacingAndGlyphs">40</tspan></text>
<text class="n" font-size="11.6"><tspan class="tri" font-size="12" text-anchor="end" x="830.23" y="224.5">▲</tspan><tspan x="829.63" y="224.3" textLength="6.19" lengthAdjust="spacingAndGlyphs">9</tspan><tspan x="835.46" y="224.3" textLength="3.09" lengthAdjust="spacingAndGlyphs">.</tspan><tspan x="838.31" y="224.3" textLength="6.19" lengthAdjust="spacingAndGlyphs">2</tspan></text>
<text class="k" x="491" y="254.48" font-size="13" text-anchor="middle" textLength="48" lengthAdjust="spacingAndGlyphs">ボーナス</text>
<text class="j" x="536.6" y="243.98" font-size="13">現状判断<tspan class="la" dx="-0.7">D</tspan><tspan dx="-1.2">I</tspan></text>
<text class="n" font-size="11.6"><tspan x="683.11" y="244.18" textLength="6.19" lengthAdjust="spacingAndGlyphs">7</tspan></text>
<text class="n" font-size="11.6"><tspan x="731.44" y="244.18" textLength="12.37" lengthAdjust="spacingAndGlyphs">50</tspan><tspan x="743.46" y="244.18" textLength="3.09" lengthAdjust="spacingAndGlyphs">.</tspan><tspan x="746.31" y="244.18" textLength="6.19" lengthAdjust="spacingAndGlyphs">0</tspan></text>
<text class="n" font-size="11.6"><tspan class="j" font-size="12.5" text-anchor="end" x="829.43" y="244.38">＋</tspan><tspan x="829.63" y="244.18" textLength="6.19" lengthAdjust="spacingAndGlyphs">0</tspan><tspan x="835.46" y="244.18" textLength="3.09" lengthAdjust="spacingAndGlyphs">.</tspan><tspan x="838.31" y="244.18" textLength="6.19" lengthAdjust="spacingAndGlyphs">2</tspan></text>
<text class="j" x="536.6" y="263.85" font-size="13">先行<tspan dx="-0.8">き</tspan><tspan dx="-1.3">判断</tspan><tspan class="la" dx="-1">D</tspan><tspan dx="-1.2">I</tspan></text>
<text class="n" font-size="11.6"><tspan x="676.93" y="264.05" textLength="12.37" lengthAdjust="spacingAndGlyphs">24</tspan></text>
<text class="n" font-size="11.6"><tspan x="731.44" y="264.05" textLength="12.37" lengthAdjust="spacingAndGlyphs">58</tspan><tspan x="743.46" y="264.05" textLength="3.09" lengthAdjust="spacingAndGlyphs">.</tspan><tspan x="746.31" y="264.05" textLength="6.19" lengthAdjust="spacingAndGlyphs">3</tspan></text>
<text class="n" font-size="11.6"><tspan class="j" font-size="12.5" text-anchor="end" x="829.43" y="264.25">＋</tspan><tspan x="829.63" y="264.05" textLength="6.19" lengthAdjust="spacingAndGlyphs">8</tspan><tspan x="835.46" y="264.05" textLength="3.09" lengthAdjust="spacingAndGlyphs">.</tspan><tspan x="838.31" y="264.05" textLength="6.19" lengthAdjust="spacingAndGlyphs">9</tspan></text>
<text class="k" x="491" y="293.98" font-size="13" text-anchor="middle" textLength="50" lengthAdjust="spacingAndGlyphs">設備投資</text>
<text class="j" x="536.6" y="283.72" font-size="13">現状判断<tspan class="la" dx="-0.7">D</tspan><tspan dx="-1.2">I</tspan></text>
<text class="n" font-size="11.6"><tspan x="683.11" y="283.92" textLength="6.19" lengthAdjust="spacingAndGlyphs">7</tspan></text>
<text class="n" font-size="11.6"><tspan x="731.44" y="283.92" textLength="12.37" lengthAdjust="spacingAndGlyphs">50</tspan><tspan x="743.46" y="283.92" textLength="3.09" lengthAdjust="spacingAndGlyphs">.</tspan><tspan x="746.31" y="283.92" textLength="6.19" lengthAdjust="spacingAndGlyphs">0</tspan></text>
<text class="n" font-size="11.6"><tspan class="j" font-size="12.5" text-anchor="end" x="829.43" y="284.12">＋</tspan><tspan x="829.63" y="283.92" textLength="6.19" lengthAdjust="spacingAndGlyphs">0</tspan><tspan x="835.46" y="283.92" textLength="3.09" lengthAdjust="spacingAndGlyphs">.</tspan><tspan x="838.31" y="283.92" textLength="6.19" lengthAdjust="spacingAndGlyphs">2</tspan></text>
<text class="j" x="536.6" y="303.59" font-size="13">先行<tspan dx="-0.8">き</tspan><tspan dx="-1.3">判断</tspan><tspan class="la" dx="-1">D</tspan><tspan dx="-1.2">I</tspan></text>
<text class="n" font-size="11.6"><tspan x="676.93" y="303.79" textLength="12.37" lengthAdjust="spacingAndGlyphs">13</tspan></text>
<text class="n" font-size="11.6"><tspan x="731.44" y="303.79" textLength="12.37" lengthAdjust="spacingAndGlyphs">50</tspan><tspan x="743.46" y="303.79" textLength="3.09" lengthAdjust="spacingAndGlyphs">.</tspan><tspan x="746.31" y="303.79" textLength="6.19" lengthAdjust="spacingAndGlyphs">0</tspan></text>
<text class="n" font-size="11.6"><tspan class="j" font-size="12.5" text-anchor="end" x="829.43" y="303.99">＋</tspan><tspan x="829.63" y="303.79" textLength="6.19" lengthAdjust="spacingAndGlyphs">0</tspan><tspan x="835.46" y="303.79" textLength="3.09" lengthAdjust="spacingAndGlyphs">.</tspan><tspan x="838.31" y="303.79" textLength="6.19" lengthAdjust="spacingAndGlyphs">6</tspan></text>
<text class="k" x="491" y="333.98" font-size="13" text-anchor="middle">倒産</text>
<text class="j" x="536.6" y="323.46" font-size="13">現状判断<tspan class="la" dx="-0.7">D</tspan><tspan dx="-1.2">I</tspan></text>
<text class="n" font-size="11.6"><tspan x="683.11" y="323.66" textLength="6.19" lengthAdjust="spacingAndGlyphs">1</tspan></text>
<text class="n" font-size="11.6"><tspan x="737.63" y="323.66" textLength="6.19" lengthAdjust="spacingAndGlyphs">0</tspan><tspan x="743.46" y="323.66" textLength="3.09" lengthAdjust="spacingAndGlyphs">.</tspan><tspan x="746.31" y="323.66" textLength="6.19" lengthAdjust="spacingAndGlyphs">0</tspan></text>
<text class="n" font-size="11.6"><tspan class="tri" font-size="12" text-anchor="end" x="824.04" y="323.86">▲</tspan><tspan x="823.44" y="323.66" textLength="12.37" lengthAdjust="spacingAndGlyphs">49</tspan><tspan x="835.46" y="323.66" textLength="3.09" lengthAdjust="spacingAndGlyphs">.</tspan><tspan x="838.31" y="323.66" textLength="6.19" lengthAdjust="spacingAndGlyphs">8</tspan></text>
<text class="j" x="536.6" y="343.34" font-size="13">先行<tspan dx="-0.8">き</tspan><tspan dx="-1.3">判断</tspan><tspan class="la" dx="-1">D</tspan><tspan dx="-1.2">I</tspan></text>
<text class="n" font-size="11.6"><tspan x="683.11" y="343.54" textLength="6.19" lengthAdjust="spacingAndGlyphs">5</tspan></text>
<text class="n" font-size="11.6"><tspan x="731.44" y="343.54" textLength="12.37" lengthAdjust="spacingAndGlyphs">35</tspan><tspan x="743.46" y="343.54" textLength="3.09" lengthAdjust="spacingAndGlyphs">.</tspan><tspan x="746.31" y="343.54" textLength="6.19" lengthAdjust="spacingAndGlyphs">0</tspan></text>
<text class="n" font-size="11.6"><tspan class="tri" font-size="12" text-anchor="end" x="824.04" y="343.74">▲</tspan><tspan x="823.44" y="343.54" textLength="12.37" lengthAdjust="spacingAndGlyphs">14</tspan><tspan x="835.46" y="343.54" textLength="3.09" lengthAdjust="spacingAndGlyphs">.</tspan><tspan x="838.31" y="343.54" textLength="6.19" lengthAdjust="spacingAndGlyphs">4</tspan></text>
<text class="k" x="491" y="373.48" font-size="13" text-anchor="middle">政治</text>
<text class="j" x="536.6" y="363.21" font-size="13">現状判断<tspan class="la" dx="-0.7">D</tspan><tspan dx="-1.2">I</tspan></text>
<text class="n" font-size="11.6"><tspan x="683.11" y="363.41" textLength="6.19" lengthAdjust="spacingAndGlyphs">0</tspan></text>
<text class="j" font-size="12" text-anchor="middle" transform="translate(731.8 362.71) scale(0.6 1)">－</text>
<text class="j" font-size="12" text-anchor="middle" transform="translate(813.3 362.71) scale(0.6 1)">－</text>
<text class="j" x="536.6" y="383.08" font-size="13">先行<tspan dx="-0.8">き</tspan><tspan dx="-1.3">判断</tspan><tspan class="la" dx="-1">D</tspan><tspan dx="-1.2">I</tspan></text>
<text class="n" font-size="11.6"><tspan x="683.11" y="383.28" textLength="6.19" lengthAdjust="spacingAndGlyphs">3</tspan></text>
<text class="n" font-size="11.6"><tspan x="731.44" y="383.28" textLength="12.37" lengthAdjust="spacingAndGlyphs">41</tspan><tspan x="743.46" y="383.28" textLength="3.09" lengthAdjust="spacingAndGlyphs">.</tspan><tspan x="746.31" y="383.28" textLength="6.19" lengthAdjust="spacingAndGlyphs">7</tspan></text>
<text class="n" font-size="11.6"><tspan class="tri" font-size="12" text-anchor="end" x="830.23" y="383.48">▲</tspan><tspan x="829.63" y="383.28" textLength="6.19" lengthAdjust="spacingAndGlyphs">7</tspan><tspan x="835.46" y="383.28" textLength="3.09" lengthAdjust="spacingAndGlyphs">.</tspan><tspan x="838.31" y="383.28" textLength="6.19" lengthAdjust="spacingAndGlyphs">7</tspan></text>
<text class="k" x="491" y="413.48" font-size="13" text-anchor="middle">減税</text>
<text class="j" x="536.6" y="402.95" font-size="13">現状判断<tspan class="la" dx="-0.7">D</tspan><tspan dx="-1.2">I</tspan></text>
<text class="n" font-size="11.6"><tspan x="683.11" y="403.15" textLength="6.19" lengthAdjust="spacingAndGlyphs">2</tspan></text>
<text class="n" font-size="11.6"><tspan x="731.44" y="403.15" textLength="12.37" lengthAdjust="spacingAndGlyphs">25</tspan><tspan x="743.46" y="403.15" textLength="3.09" lengthAdjust="spacingAndGlyphs">.</tspan><tspan x="746.31" y="403.15" textLength="6.19" lengthAdjust="spacingAndGlyphs">0</tspan></text>
<text class="n" font-size="11.6"><tspan class="tri" font-size="12" text-anchor="end" x="824.04" y="403.35">▲</tspan><tspan x="823.44" y="403.15" textLength="12.37" lengthAdjust="spacingAndGlyphs">24</tspan><tspan x="835.46" y="403.15" textLength="3.09" lengthAdjust="spacingAndGlyphs">.</tspan><tspan x="838.31" y="403.15" textLength="6.19" lengthAdjust="spacingAndGlyphs">8</tspan></text>
<text class="j" x="536.6" y="422.82" font-size="13">先行<tspan dx="-0.8">き</tspan><tspan dx="-1.3">判断</tspan><tspan class="la" dx="-1">D</tspan><tspan dx="-1.2">I</tspan></text>
<text class="n" font-size="11.6"><tspan x="676.93" y="423.02" textLength="12.37" lengthAdjust="spacingAndGlyphs">14</tspan></text>
<text class="n" font-size="11.6"><tspan x="731.44" y="423.02" textLength="12.37" lengthAdjust="spacingAndGlyphs">44</tspan><tspan x="743.46" y="423.02" textLength="3.09" lengthAdjust="spacingAndGlyphs">.</tspan><tspan x="746.31" y="423.02" textLength="6.19" lengthAdjust="spacingAndGlyphs">6</tspan></text>
<text class="n" font-size="11.6"><tspan class="tri" font-size="12" text-anchor="end" x="830.23" y="423.22">▲</tspan><tspan x="829.63" y="423.02" textLength="6.19" lengthAdjust="spacingAndGlyphs">4</tspan><tspan x="835.46" y="423.02" textLength="3.09" lengthAdjust="spacingAndGlyphs">.</tspan><tspan x="838.31" y="423.02" textLength="6.19" lengthAdjust="spacingAndGlyphs">8</tspan></text>
<text class="k" x="491" y="452.98" font-size="13" text-anchor="middle">増税</text>
<text class="j" x="536.6" y="442.7" font-size="13">現状判断<tspan class="la" dx="-0.7">D</tspan><tspan dx="-1.2">I</tspan></text>
<text class="n" font-size="11.6"><tspan x="683.11" y="442.9" textLength="6.19" lengthAdjust="spacingAndGlyphs">3</tspan></text>
<text class="n" font-size="11.6"><tspan x="731.44" y="442.9" textLength="12.37" lengthAdjust="spacingAndGlyphs">50</tspan><tspan x="743.46" y="442.9" textLength="3.09" lengthAdjust="spacingAndGlyphs">.</tspan><tspan x="746.31" y="442.9" textLength="6.19" lengthAdjust="spacingAndGlyphs">0</tspan></text>
<text class="n" font-size="11.6"><tspan class="j" font-size="12.5" text-anchor="end" x="829.43" y="443.1">＋</tspan><tspan x="829.63" y="442.9" textLength="6.19" lengthAdjust="spacingAndGlyphs">0</tspan><tspan x="835.46" y="442.9" textLength="3.09" lengthAdjust="spacingAndGlyphs">.</tspan><tspan x="838.31" y="442.9" textLength="6.19" lengthAdjust="spacingAndGlyphs">2</tspan></text>
<text class="j" x="536.6" y="462.57" font-size="13">先行<tspan dx="-0.8">き</tspan><tspan dx="-1.3">判断</tspan><tspan class="la" dx="-1">D</tspan><tspan dx="-1.2">I</tspan></text>
<text class="n" font-size="11.6"><tspan x="683.11" y="462.77" textLength="6.19" lengthAdjust="spacingAndGlyphs">9</tspan></text>
<text class="n" font-size="11.6"><tspan x="731.44" y="462.77" textLength="12.37" lengthAdjust="spacingAndGlyphs">30</tspan><tspan x="743.46" y="462.77" textLength="3.09" lengthAdjust="spacingAndGlyphs">.</tspan><tspan x="746.31" y="462.77" textLength="6.19" lengthAdjust="spacingAndGlyphs">6</tspan></text>
<text class="n" font-size="11.6"><tspan class="tri" font-size="12" text-anchor="end" x="824.04" y="462.97">▲</tspan><tspan x="823.44" y="462.77" textLength="12.37" lengthAdjust="spacingAndGlyphs">18</tspan><tspan x="835.46" y="462.77" textLength="3.09" lengthAdjust="spacingAndGlyphs">.</tspan><tspan x="838.31" y="462.77" textLength="6.19" lengthAdjust="spacingAndGlyphs">8</tspan></text>
<text class="k" x="491" y="492.98" font-size="13" text-anchor="middle">金利</text>
<text class="j" x="536.6" y="482.44" font-size="13">現状判断<tspan class="la" dx="-0.7">D</tspan><tspan dx="-1.2">I</tspan></text>
<text class="n" font-size="11.6"><tspan x="683.11" y="482.64" textLength="6.19" lengthAdjust="spacingAndGlyphs">1</tspan></text>
<text class="n" font-size="11.6"><tspan x="731.44" y="482.64" textLength="12.37" lengthAdjust="spacingAndGlyphs">50</tspan><tspan x="743.46" y="482.64" textLength="3.09" lengthAdjust="spacingAndGlyphs">.</tspan><tspan x="746.31" y="482.64" textLength="6.19" lengthAdjust="spacingAndGlyphs">0</tspan></text>
<text class="n" font-size="11.6"><tspan class="j" font-size="12.5" text-anchor="end" x="829.43" y="482.84">＋</tspan><tspan x="829.63" y="482.64" textLength="6.19" lengthAdjust="spacingAndGlyphs">0</tspan><tspan x="835.46" y="482.64" textLength="3.09" lengthAdjust="spacingAndGlyphs">.</tspan><tspan x="838.31" y="482.64" textLength="6.19" lengthAdjust="spacingAndGlyphs">2</tspan></text>
<text class="j" x="536.6" y="502.31" font-size="13">先行<tspan dx="-0.8">き</tspan><tspan dx="-1.3">判断</tspan><tspan class="la" dx="-1">D</tspan><tspan dx="-1.2">I</tspan></text>
<text class="n" font-size="11.6"><tspan x="676.93" y="502.51" textLength="12.37" lengthAdjust="spacingAndGlyphs">14</tspan></text>
<text class="n" font-size="11.6"><tspan x="731.44" y="502.51" textLength="12.37" lengthAdjust="spacingAndGlyphs">37</tspan><tspan x="743.46" y="502.51" textLength="3.09" lengthAdjust="spacingAndGlyphs">.</tspan><tspan x="746.31" y="502.51" textLength="6.19" lengthAdjust="spacingAndGlyphs">5</tspan></text>
<text class="n" font-size="11.6"><tspan class="tri" font-size="12" text-anchor="end" x="824.04" y="502.71">▲</tspan><tspan x="823.44" y="502.51" textLength="12.37" lengthAdjust="spacingAndGlyphs">11</tspan><tspan x="835.46" y="502.51" textLength="3.09" lengthAdjust="spacingAndGlyphs">.</tspan><tspan x="838.31" y="502.51" textLength="6.19" lengthAdjust="spacingAndGlyphs">9</tspan></text>
<text class="k" x="491" y="532.48" font-size="13" text-anchor="middle" textLength="76.5" lengthAdjust="spacingAndGlyphs">在阪球団優勝</text>
<text class="j" x="536.6" y="522.18" font-size="13">現状判断<tspan class="la" dx="-0.7">D</tspan><tspan dx="-1.2">I</tspan></text>
<text class="n" font-size="11.6"><tspan x="683.11" y="522.38" textLength="6.19" lengthAdjust="spacingAndGlyphs">6</tspan></text>
<text class="n" font-size="11.6"><tspan x="731.44" y="522.38" textLength="12.37" lengthAdjust="spacingAndGlyphs">54</tspan><tspan x="743.46" y="522.38" textLength="3.09" lengthAdjust="spacingAndGlyphs">.</tspan><tspan x="746.31" y="522.38" textLength="6.19" lengthAdjust="spacingAndGlyphs">2</tspan></text>
<text class="n" font-size="11.6"><tspan class="j" font-size="12.5" text-anchor="end" x="829.43" y="522.58">＋</tspan><tspan x="829.63" y="522.38" textLength="6.19" lengthAdjust="spacingAndGlyphs">4</tspan><tspan x="835.46" y="522.38" textLength="3.09" lengthAdjust="spacingAndGlyphs">.</tspan><tspan x="838.31" y="522.38" textLength="6.19" lengthAdjust="spacingAndGlyphs">4</tspan></text>
<text class="j" x="536.6" y="542.06" font-size="13">先行<tspan dx="-0.8">き</tspan><tspan dx="-1.3">判断</tspan><tspan class="la" dx="-1">D</tspan><tspan dx="-1.2">I</tspan></text>
<text class="n" font-size="11.6"><tspan x="683.11" y="542.26" textLength="6.19" lengthAdjust="spacingAndGlyphs">0</tspan></text>
<text class="j" font-size="12" text-anchor="middle" transform="translate(731.8 541.56) scale(0.6 1)">－</text>
<text class="j" font-size="12" text-anchor="middle" transform="translate(813.3 541.56) scale(0.6 1)">－</text>
<rect x="447" y="48" width="417" height="1" fill="#000"/>
<rect x="447" y="69" width="417" height="2" fill="#000"/>
<rect x="534" y="89" width="330" height="1" fill="#000"/>
<rect x="447" y="109" width="417" height="2" fill="#000"/>
<rect x="534" y="129" width="330" height="1" fill="#000"/>
<rect x="447" y="148" width="417" height="1" fill="#000"/>
<rect x="447" y="149" width="417" height="1" fill="#fff" fill-opacity="0.6"/>
<rect x="447" y="150" width="417" height="1" fill="#000"/>
<rect x="534" y="169" width="330" height="1" fill="#000"/>
<rect x="447" y="188" width="417" height="2" fill="#000"/>
<rect x="534" y="209" width="330" height="1" fill="#000"/>
<rect x="447" y="228" width="417" height="2" fill="#000"/>
<rect x="534" y="248" width="330" height="1" fill="#000"/>
<rect x="447" y="268" width="417" height="2" fill="#000"/>
<rect x="534" y="288" width="330" height="1" fill="#000"/>
<rect x="447" y="307" width="417" height="1" fill="#000"/>
<rect x="447" y="308" width="417" height="1" fill="#fff" fill-opacity="0.6"/>
<rect x="447" y="309" width="417" height="1" fill="#000"/>
<rect x="534" y="328" width="330" height="1" fill="#000"/>
<rect x="447" y="347" width="417" height="2" fill="#000"/>
<rect x="534" y="368" width="330" height="1" fill="#000"/>
<rect x="447" y="387" width="417" height="2" fill="#000"/>
<rect x="534" y="407" width="330" height="1" fill="#000"/>
<rect x="447" y="427" width="417" height="2" fill="#000"/>
<rect x="534" y="447" width="330" height="1" fill="#000"/>
<rect x="447" y="466" width="417" height="1" fill="#000"/>
<rect x="447" y="467" width="417" height="1" fill="#fff" fill-opacity="0.6"/>
<rect x="447" y="468" width="417" height="1" fill="#000"/>
<rect x="534" y="487" width="330" height="1" fill="#000"/>
<rect x="447" y="506" width="417" height="2" fill="#000"/>
<rect x="534" y="527" width="330" height="1" fill="#000"/>
<rect x="447" y="546" width="417" height="2" fill="#000"/>
<rect x="447" y="48" width="1" height="500" fill="#000"/>
<rect x="534" y="48" width="1" height="500" fill="#000"/>
<rect x="621" y="48" width="1" height="500" fill="#000"/>
<rect x="700" y="48" width="1" height="500" fill="#000"/>
<rect x="763" y="48" width="1" height="500" fill="#000"/>
<rect x="863" y="48" width="1" height="500" fill="#000"/>
<text class="j" x="-5.4" y="569.3" font-size="12">（出所）<tspan dx="-6" letter-spacing="-0.15">内閣府データより作成</tspan></text>
</svg>
</body></html>
